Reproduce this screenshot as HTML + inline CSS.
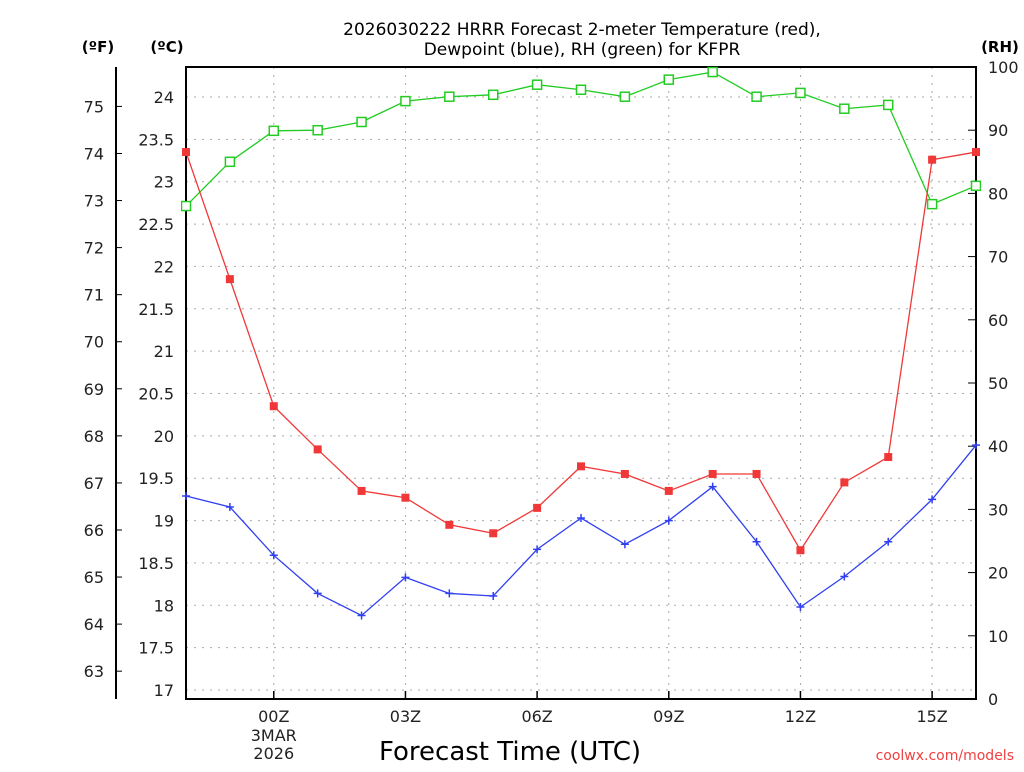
<!DOCTYPE html>
<html><head><meta charset="utf-8"><style>
body{margin:0;background:#fff;font-family:"DejaVu Sans","Liberation Sans",sans-serif}
svg text{font-family:"DejaVu Sans","Liberation Sans",sans-serif}
</style></head><body>
<svg id="c" width="1024" height="768" xmlns="http://www.w3.org/2000/svg">
<text x="582" y="35" text-anchor="middle" font-size="17">2026030222 HRRR Forecast 2-meter Temperature (red),</text>
<text x="582" y="55" text-anchor="middle" font-size="17">Dewpoint (blue), RH (green) for KFPR</text>
<text x="98" y="52" text-anchor="middle" font-size="15" font-weight="bold">(ºF)</text>
<text x="167" y="52" text-anchor="middle" font-size="15" font-weight="bold">(ºC)</text>
<text x="1000" y="52" text-anchor="middle" font-size="15" font-weight="bold">(RH)</text>
<text x="510" y="760" text-anchor="middle" font-size="26">Forecast Time (UTC)</text>
<text x="1014" y="760" text-anchor="end" font-size="14" fill="#f04040">coolwx.com/models</text>
<g id="g"></g>
</svg>
<script>
const hours=[-2,-1,0,1,2,3,4,5,6,7,8,9,10,11,12,13,14,15,16];
const temp=[23.35,21.85,20.35,19.84,19.35,19.27,18.95,18.85,19.15,19.64,19.55,19.35,19.55,19.55,18.65,19.45,19.75,23.26,23.35];
const dew=[19.29,19.16,18.59,18.14,17.88,18.33,18.14,18.11,18.66,19.03,18.72,19.0,19.4,18.75,17.98,18.34,18.75,19.25,19.89];
const rh=[78,85,89.9,90,91.3,94.6,95.3,95.6,97.2,96.4,95.3,98,99.2,95.3,95.9,93.4,94,78.3,81.2];
const cTicks=[17,17.5,18,18.5,19,19.5,20,20.5,21,21.5,22,22.5,23,23.5,24];
const fTicks=[63,64,65,66,67,68,69,70,71,72,73,74,75];
const rhTicks=[0,10,20,30,40,50,60,70,80,90,100];
const xTicks=[0,3,6,9,12,15];
const xLabels=["00Z","03Z","06Z","09Z","12Z","15Z"];
const L=186,R=976,T=67,B=699;
const X=h=>L+(h+2)*(R-L)/18;
const CY=c=>97+(24-c)*593/7;
const FY=f=>CY((f-32)*5/9);
const RY=r=>B-r*(B-T)/100;
const g=document.getElementById('g');const NS='http://www.w3.org/2000/svg';
function mk(t,a,p){const e=document.createElementNS(NS,t);for(const k in a)e.setAttribute(k,a[k]);(p||g).appendChild(e);return e;}
cTicks.forEach(c=>{const y=CY(c);
 const l=mk('line',{x1:L,x2:R,y1:y,y2:y,stroke:'#aaa','stroke-dasharray':'2,6'});
 
 
 const t=mk('text',{x:174,y:y+6,'text-anchor':'end','font-size':16,fill:'#222'});t.textContent=String(c);
 
 });
xTicks.forEach((h,i)=>{const x=X(h);
 const l=mk('line',{x1:x,x2:x,y1:T,y2:B,stroke:'#aaa','stroke-dasharray':'2,6'});
 
 
 mk('line',{x1:x,x2:x,y1:B,y2:B-8,stroke:'#000','stroke-width':1.5});
 const t=mk('text',{x:x,y:722,'text-anchor':'middle','font-size':16,fill:'#222'});t.textContent=xLabels[i];
 
 });
[["3MAR",741],["2026",759]].forEach(a=>{const t=mk('text',{x:X(0),y:a[1],'text-anchor':'middle','font-size':16,fill:'#222'});t.textContent=a[0];
 
 });
fTicks.forEach(f=>{const y=FY(f);
 mk('line',{x1:116,x2:122,y1:y,y2:y,stroke:'#000'});
 const t=mk('text',{x:104,y:y+6,'text-anchor':'end','font-size':16,fill:'#222'});t.textContent=String(f);
 
 });
rhTicks.forEach(r=>{const y=RY(r);
 mk('line',{x1:R,x2:R-8,y1:y,y2:y,stroke:'#000'});
 const t=mk('text',{x:988,y:y+6,'font-size':16,fill:'#222'});t.textContent=String(r);
 
 });
mk('line',{x1:116,x2:116,y1:T,y2:B,stroke:'#000','stroke-width':2});
const fr=mk('rect',{x:L,y:T,width:R-L,height:B-T,fill:'none',stroke:'#000','stroke-width':2});


const clip=mk('clipPath',{id:'cp'});mk('rect',{x:L-5,y:T-5,width:R-L+10,height:B-T+10},clip);
function series(vals,yf,color,name,marker){
 const sg=mk('g',{'clip-path':'url(#cp)'});
 
 
 mk('polyline',{points:vals.map((v,i)=>X(hours[i])+','+yf(v)).join(' '),fill:'none',stroke:color,'stroke-width':1.3},sg);
 vals.forEach((v,i)=>{const x=X(hours[i]),y=yf(v);let m;
  if(marker==='fill')m=mk('rect',{x:x-4,y:y-4,width:8,height:8,fill:color},sg);
  else if(marker==='open')m=mk('rect',{x:x-4.5,y:y-4.5,width:9,height:9,fill:'#fff',stroke:color,'stroke-width':1.5},sg);
  else{m=mk('path',{d:`M${x-4},${y}H${x+4}M${x},${y-4}V${y+4}`,stroke:color,'stroke-width':1.5},sg);}
  
  });}
series(rh,RY,'#22cc22','rh-series','open');
series(temp,CY,'#f03838','temperature-series','fill');
series(dew,CY,'#3040f0','dewpoint-series','plus');
</script>
</body></html>
